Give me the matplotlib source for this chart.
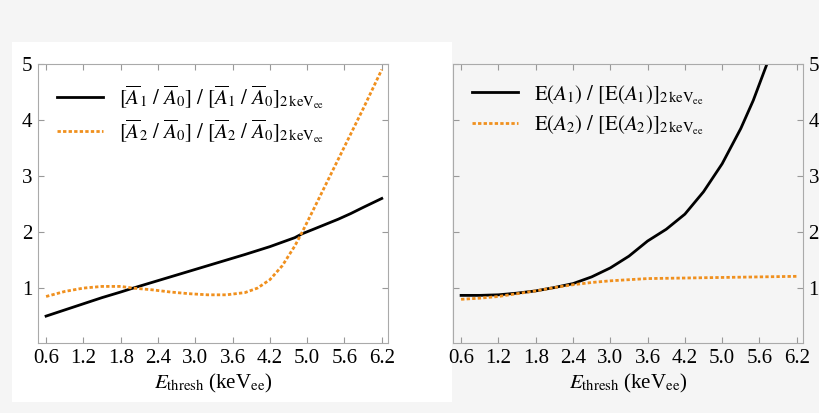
import matplotlib
matplotlib.use("Agg")
import matplotlib.pyplot as plt
from matplotlib.patches import Rectangle

plt.rcParams['font.family'] = ['Liberation Serif', 'DejaVu Serif']
plt.rcParams['mathtext.fontset'] = 'stix'

tick_pos = [0.6, 1.2, 1.8, 2.4, 3.0, 3.6, 4.2, 4.8, 5.4, 6.0]
tick_labels = ['0.6', '1.2', '1.8', '2.4', '3.0', '3.6', '4.2', '5.0', '5.6', '6.2']

x_left = [0.6, 0.9, 1.2, 1.5, 1.8, 2.0, 2.3, 2.6, 2.9, 3.2, 3.5, 3.8, 4.0, 4.2, 4.4, 4.6, 4.72, 4.9, 5.1, 5.3, 5.5, 5.7, 5.85, 6.0]
left_a1 = [0.5, 0.61, 0.72, 0.83, 0.93, 1.0, 1.1, 1.2, 1.3, 1.4, 1.5, 1.6, 1.67, 1.74, 1.82, 1.9, 1.97, 2.05, 2.14, 2.23, 2.33, 2.44, 2.52, 2.6]
left_a2 = [0.85, 0.94, 1.0, 1.03, 1.03, 1.0, 0.97, 0.93, 0.9, 0.88, 0.88, 0.92, 1.0, 1.15, 1.4, 1.75, 2.0, 2.4, 2.85, 3.3, 3.75, 4.2, 4.55, 4.9]

x_right = [0.6, 0.9, 1.2, 1.5, 1.8, 2.1, 2.4, 2.7, 3.0, 3.3, 3.6, 3.9, 4.2, 4.5, 4.8, 5.1, 5.3, 5.52]
right_e1 = [0.87, 0.87, 0.88, 0.91, 0.95, 1.01, 1.08, 1.2, 1.36, 1.57, 1.84, 2.05, 2.32, 2.72, 3.22, 3.85, 4.35, 5.0]
x_right2 = [0.6, 0.9, 1.2, 1.5, 1.8, 2.1, 2.4, 2.7, 3.0, 3.3, 3.6, 4.2, 4.8, 5.4, 6.0]
right_e2 = [0.8, 0.82, 0.85, 0.9, 0.95, 1.01, 1.06, 1.1, 1.13, 1.15, 1.17, 1.18, 1.19, 1.2, 1.21]

bg = '#f5f5f5'
fig = plt.figure(figsize=(8.2, 4.13), dpi=100, facecolor=bg)
W, H = 820, 413
fig.patches.append(Rectangle((12 / W, 1 - 402 / H), 440 / W, 360 / H,
                             transform=fig.transFigure, facecolor='white', edgecolor='none', zorder=-5))

orange = '#f0901e'

def style(ax, right):
    ax.set_xlim(0.47, 6.1)
    ax.set_ylim(0.02, 5)
    ax.set_xticks(tick_pos)
    ax.set_xticklabels(tick_labels)
    ax.set_yticks([1, 2, 3, 4, 5])
    ax.tick_params(direction='in', length=4, color='#999999', labelsize=15, top=True, right=True, left=True,
                   labelleft=not right, labelright=right, pad=4)
    for s in ax.spines.values():
        s.set_color('#aaaaaa')
    ax.set_xlabel(r'$E_{\mathrm{thresh}}$ (keV$_{\mathrm{ee}}$)', fontsize=15, labelpad=3)

ax1 = fig.add_axes([38 / W, 1 - 343 / H, 350 / W, 279 / H])
ax1.set_zorder(2)
ax1.set_facecolor('white')
ax1.plot(x_left, left_a1, color='black', lw=2,
         label=r'$[\overline{A}_1\ /\ \overline{A}_0]\ /\ [\overline{A}_1\ /\ \overline{A}_0]_{2\,\mathrm{keV_{ee}}}$')
ax1.plot(x_left, left_a2, color=orange, lw=2, ls=(0, (1.2, 0.8)),
         label=r'$[\overline{A}_2\ /\ \overline{A}_0]\ /\ [\overline{A}_2\ /\ \overline{A}_0]_{2\,\mathrm{keV_{ee}}}$')
style(ax1, False)
ax1.legend(loc='upper left', frameon=False, fontsize=15, handlelength=2.2, borderaxespad=0.5, labelspacing=0.3)

ax2 = fig.add_axes([453 / W, 1 - 343 / H, 350 / W, 279 / H])
ax2.set_zorder(2)
ax2.set_facecolor(bg)
ax2.plot(x_right, right_e1, color='black', lw=2,
         label=r'$\mathrm{E}(A_1)\ /\ [\mathrm{E}(A_1)]_{2\,\mathrm{keV_{ee}}}$')
ax2.plot(x_right2, right_e2, color=orange, lw=2, ls=(0, (1.2, 0.8)),
         label=r'$\mathrm{E}(A_2)\ /\ [\mathrm{E}(A_2)]_{2\,\mathrm{keV_{ee}}}$')
style(ax2, True)
ax2.legend(loc='upper left', frameon=False, fontsize=15, handlelength=2.2, borderaxespad=0.5, labelspacing=0.3)

fig.savefig('out.png', dpi=100, facecolor=bg)
